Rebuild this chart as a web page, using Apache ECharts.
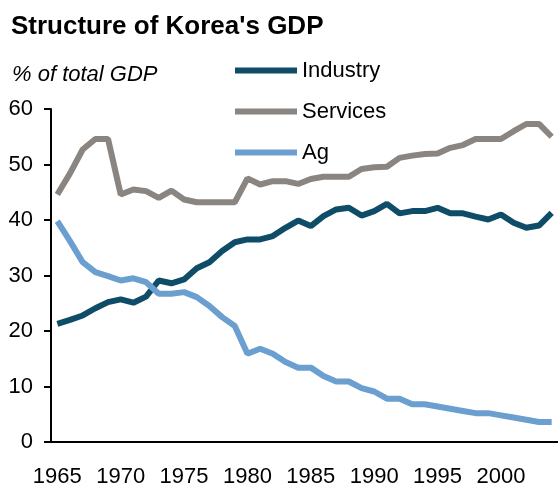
<!DOCTYPE html>
<html>
<head>
<meta charset="utf-8">
<script src="https://cdn.jsdelivr.net/npm/echarts@6/dist/echarts.min.js"></script>
<style>
  html, body { margin: 0; padding: 0; background: #fff; }
  #chart { width: 558px; height: 488px; }
</style>
</head>
<body>
<div id="chart"></div>
<script>
// years 1965..2004
const years = [];
for (let y = 1965; y <= 2004; y++) years.push(String(y));

const industry = [21.3, 22.0, 22.8, 24.1, 25.2, 25.7, 25.1, 26.2, 29.1, 28.6,
  29.3, 31.3, 32.4, 34.4, 36.0, 36.5, 36.5, 37.1, 38.6, 39.9,
  38.9, 40.7, 41.9, 42.2, 40.8, 41.6, 42.9, 41.2, 41.6, 41.6,
  42.2, 41.2, 41.2, 40.6, 40.1, 41.0, 39.5, 38.6, 39.0, 41.3];

const services = [44.6, 48.4, 52.7, 54.6, 54.6, 44.6, 45.5, 45.2, 44.0, 45.3,
  43.7, 43.2, 43.2, 43.2, 43.2, 47.5, 46.4, 47.0, 47.0, 46.5,
  47.4, 47.8, 47.8, 47.8, 49.2, 49.5, 49.6, 51.2, 51.6, 51.9,
  52.0, 53.0, 53.5, 54.6, 54.6, 54.6, 56.0, 57.3, 57.3, 55.0];

const ag = [39.8, 36.2, 32.4, 30.6, 29.9, 29.1, 29.5, 28.8, 26.7, 26.7,
  27.0, 26.1, 24.5, 22.5, 20.9, 15.9, 16.8, 15.9, 14.4, 13.4,
  13.4, 11.9, 10.9, 10.9, 9.7, 9.1, 7.8, 7.8, 6.8, 6.8,
  6.4, 6.0, 5.6, 5.2, 5.2, 4.8, 4.4, 4.0, 3.6, 3.6];

const chart = echarts.init(document.getElementById('chart'));
const font = 'Liberation Sans, Arial, sans-serif';

chart.setOption({
  animation: false,
  backgroundColor: '#fff',
  title: [
    {
      text: "Structure of Korea's GDP",
      left: 11, top: 14, padding: 0,
      textStyle: { fontFamily: font, fontWeight: 'bold', fontSize: 26, color: '#000' }
    },
    {
      text: '% of total GDP',
      left: 12, top: 64, padding: 0,
      textStyle: { fontFamily: font, fontStyle: 'italic', fontWeight: 'normal', fontSize: 22, color: '#000' }
    }
  ],
  legend: {
    orient: 'vertical',
    left: 235, top: 56, padding: 0,
    itemWidth: 62, itemHeight: 6, itemGap: 12,
    icon: 'rect',
    textStyle: { fontFamily: font, fontSize: 22, color: '#000', lineHeight: 22, padding: [7, 0, 0, 0] },
    data: ['Industry', 'Services', 'Ag']
  },
  grid: { left: 51, top: 109, width: 512, height: 335, containLabel: false },
  xAxis: {
    type: 'category',
    data: years,
    boundaryGap: true,
    axisLine: { lineStyle: { color: '#000', width: 2 } },
    axisTick: { interval: 4, length: 7, lineStyle: { color: '#000', width: 2 } },
    axisLabel: { interval: 4, margin: 24, fontFamily: font, fontSize: 22, color: '#000' },
    splitLine: { show: false }
  },
  yAxis: {
    type: 'value',
    min: 0, max: 60, interval: 10,
    axisLine: { show: true, lineStyle: { color: '#000', width: 2 } },
    axisTick: { show: true, length: 7, lineStyle: { color: '#000', width: 2 } },
    axisLabel: { margin: 18, fontFamily: font, fontSize: 22, color: '#000' },
    splitLine: { show: false }
  },
  series: [
    { name: 'Industry', type: 'line', data: industry, symbol: 'none',
      itemStyle: { color: '#0f4c68' }, lineStyle: { color: '#0f4c68', width: 6 } },
    { name: 'Services', type: 'line', data: services, symbol: 'none',
      itemStyle: { color: '#8a8580' }, lineStyle: { color: '#8a8580', width: 6 } },
    { name: 'Ag', type: 'line', data: ag, symbol: 'none',
      itemStyle: { color: '#6b9fd0' }, lineStyle: { color: '#6b9fd0', width: 6 } }
  ]
});
</script>
</body>
</html>
